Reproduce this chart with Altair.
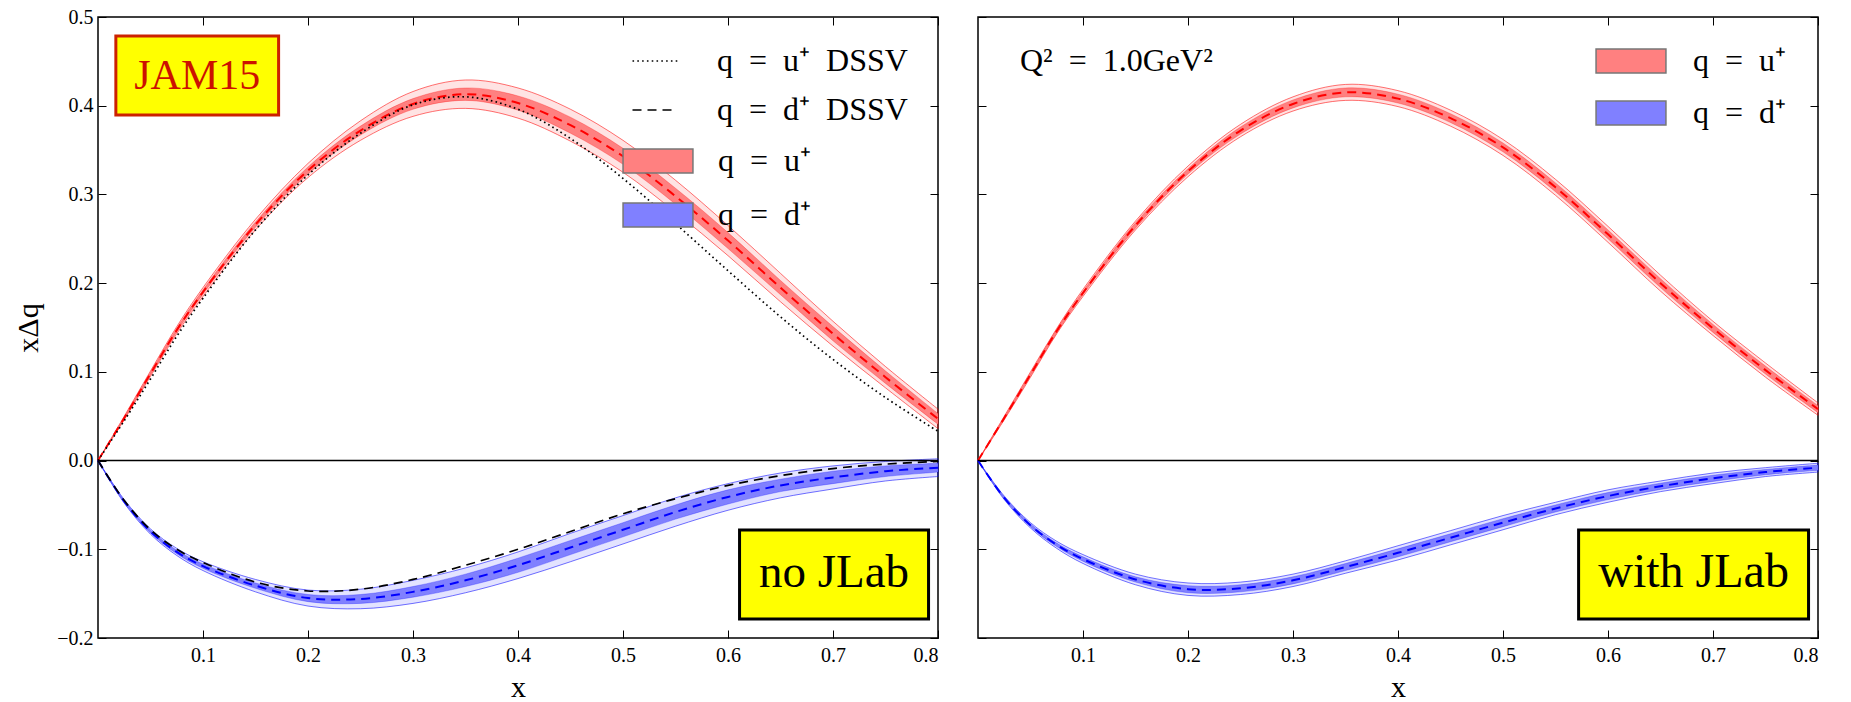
import altair as alt
import pandas as pd

# ---------------- data ----------------
X = [0, 0.025, 0.05, 0.075, 0.1, 0.15, 0.2, 0.25, 0.3, 0.35, 0.4, 0.45, 0.5, 0.55, 0.6, 0.65, 0.7, 0.75, 0.8]

# left panel (no JLab)
L_U = [0, 0.048, 0.098, 0.147, 0.19, 0.266, 0.327, 0.372, 0.402, 0.413, 0.403, 0.378, 0.343, 0.298, 0.248, 0.195, 0.143, 0.094, 0.047]
L_U_OUT = [0, 0.002, 0.003, 0.004, 0.005, 0.006, 0.008, 0.011, 0.014, 0.016, 0.017, 0.018, 0.018, 0.018, 0.017, 0.016, 0.014, 0.012, 0.011]
L_U_IN = [0, 0.001, 0.0015, 0.002, 0.0025, 0.003, 0.004, 0.005, 0.006, 0.007, 0.008, 0.009, 0.009, 0.009, 0.009, 0.008, 0.008, 0.007, 0.006]
L_D = [0, -0.046, -0.08, -0.103, -0.119, -0.141, -0.155, -0.156, -0.148, -0.135, -0.118, -0.098, -0.078, -0.058, -0.041, -0.028, -0.019, -0.012, -0.008]
L_D_OUT = [0, 0.002, 0.003, 0.004, 0.005, 0.007, 0.009, 0.011, 0.013, 0.014, 0.015, 0.016, 0.016, 0.016, 0.015, 0.014, 0.013, 0.011, 0.010]
L_D_IN = [0, 0.001, 0.0015, 0.002, 0.0025, 0.003, 0.004, 0.005, 0.006, 0.007, 0.008, 0.008, 0.008, 0.008, 0.008, 0.007, 0.007, 0.006, 0.005]
DSSV_U = [0, 0.045, 0.092, 0.14, 0.183, 0.26, 0.322, 0.369, 0.401, 0.41, 0.396, 0.363, 0.318, 0.267, 0.214, 0.162, 0.114, 0.071, 0.033]
DSSV_D = [0, -0.045, -0.078, -0.1, -0.115, -0.137, -0.147, -0.145, -0.134, -0.118, -0.1, -0.08, -0.06, -0.043, -0.028, -0.017, -0.009, -0.004, -0.001]

# right panel (with JLab)
R_U = [0, 0.048, 0.097, 0.146, 0.189, 0.265, 0.326, 0.372, 0.402, 0.415, 0.408, 0.386, 0.353, 0.308, 0.255, 0.2, 0.149, 0.102, 0.058]
R_U_OUT = [0, 0.002, 0.003, 0.003, 0.004, 0.005, 0.006, 0.007, 0.008, 0.009, 0.009, 0.009, 0.009, 0.009, 0.009, 0.009, 0.008, 0.008, 0.007]
R_U_IN = [0, 0.001, 0.0015, 0.002, 0.002, 0.003, 0.003, 0.004, 0.0045, 0.005, 0.005, 0.005, 0.005, 0.005, 0.005, 0.005, 0.0045, 0.0045, 0.004]
R_D = [0, -0.042, -0.073, -0.095, -0.111, -0.134, -0.145, -0.144, -0.135, -0.12, -0.104, -0.087, -0.07, -0.054, -0.04, -0.029, -0.02, -0.013, -0.008]
R_D_OUT = [0, 0.002, 0.003, 0.004, 0.005, 0.006, 0.007, 0.007, 0.007, 0.007, 0.008, 0.008, 0.008, 0.007, 0.007, 0.006, 0.006, 0.005, 0.005]
R_D_IN = [0, 0.001, 0.0015, 0.002, 0.0025, 0.003, 0.004, 0.004, 0.004, 0.004, 0.0045, 0.0045, 0.0045, 0.004, 0.004, 0.0035, 0.0035, 0.003, 0.003]

X_TICKS = [0.1, 0.2, 0.3, 0.4, 0.5, 0.6, 0.7, 0.8]
Y_TICKS = [-0.2, -0.1, 0.0, 0.1, 0.2, 0.3, 0.4, 0.5]
SP = "\u2002"
U_LABEL = f"q{SP}={SP}u⁺"
D_LABEL = f"q{SP}={SP}d⁺"
DSSV_LABELS = [f"q{SP}={SP}u⁺{SP}DSSV", f"q{SP}={SP}d⁺{SP}DSSV"]
Q2_LABEL = f"Q²{SP}={SP}1.0GeV²"

FONT = "Liberation Serif"
W, H = 840, 621
TICK = 8
INTERP = "catmull-rom"

xscale = alt.Scale(domain=[0, 0.8], nice=False, zero=False)
yscale = alt.Scale(domain=[-0.2, 0.5], nice=False, zero=False)


def band_df(center, outer, inner, label):
    return pd.DataFrame({
        "x": X, "c": center,
        "olo": [c - o for c, o in zip(center, outer)],
        "ohi": [c + o for c, o in zip(center, outer)],
        "ilo": [c - i for c, i in zip(center, inner)],
        "ihi": [c + i for c, i in zip(center, inner)],
        "q": label,
    })


def X_(field, axis=None):
    return alt.X(field, scale=xscale, axis=axis, title=None)


def Y_(field, axis=None):
    return alt.Y(field, scale=yscale, axis=axis, title=None)


fill_scale = alt.Scale(domain=[U_LABEL, D_LABEL], range=["#FF8080", "#8080FF"])


def annotation(box, text):
    b = alt.Chart(pd.DataFrame([box])).mark_rect(
        fill="#FFFF00", stroke=box["stroke"], strokeWidth=3).encode(
        x=X_("x1:Q"), x2="x2:Q", y=Y_("y1:Q"), y2="y2:Q")
    t = alt.Chart(pd.DataFrame([text])).mark_text(
        font=FONT, fontSize=text["size"], color=text["color"], align="center", baseline="middle").encode(
        x=X_("x:Q"), y=Y_("y:Q"), text="t:N")
    return [b, t]


def panel(u, d, left, fill_legend, extra_layers):
    du = band_df(*u, U_LABEL)
    dd = band_df(*d, D_LABEL)
    layers = []
    bottom_axis = alt.Axis(orient="bottom", values=X_TICKS, format=".1f", offset=-TICK, tickSize=TICK,
                           domain=False, grid=False, labelPadding=7, title="x", titlePadding=7,
                           minExtent=0)
    top_axis = alt.Axis(orient="top", values=X_TICKS, offset=-TICK, tickSize=TICK, domain=False,
                        grid=False, labels=False, title=None, minExtent=0)
    if left:
        left_axis = alt.Axis(orient="left", values=Y_TICKS, format=".1f", offset=-TICK, tickSize=TICK,
                             domain=False, grid=False, labelPadding=5, title="xΔq", titlePadding=13,
                             minExtent=0)
    else:
        left_axis = alt.Axis(orient="left", values=Y_TICKS, offset=-TICK, tickSize=TICK, domain=False,
                             grid=False, labels=False, title=None, minExtent=0)
    right_axis = alt.Axis(orient="right", values=Y_TICKS, offset=-TICK, tickSize=TICK, domain=False,
                          grid=False, labels=False, title=None, minExtent=0)

    for df, col, first in ((du, "#FF0000", True), (dd, "#0000FF", False)):
        outer = alt.Chart(df).mark_area(interpolate=INTERP, fill=col, fillOpacity=0.11, stroke=col,
                                        strokeOpacity=0.55, strokeWidth=1).encode(
            x=X_("x:Q", bottom_axis if first else None),
            y=Y_("olo:Q", left_axis if first else None),
            y2="ohi:Q")
        inner = alt.Chart(df).mark_area(interpolate=INTERP, stroke=col, strokeOpacity=0.35,
                                        strokeWidth=0.8).encode(
            x=X_("x:Q"), y=Y_("ilo:Q"), y2="ihi:Q",
            fill=alt.Fill("q:N", scale=fill_scale, legend=fill_legend))
        center = alt.Chart(df).mark_line(interpolate=INTERP, color=col, strokeWidth=2,
                                         strokeDash=[9, 6]).encode(
            x=X_("x:Q", top_axis if first else None),
            y=Y_("c:Q", right_axis if first else None))
        layers += [outer, inner, center]

    layers += extra_layers

    zero = alt.Chart(pd.DataFrame({"z": [0]})).mark_rule(color="black", strokeWidth=1.5).encode(
        y=alt.Y("z:Q", scale=yscale, axis=None))
    layers.append(zero)
    return alt.layer(*layers).resolve_axis(x="independent", y="independent").properties(width=W, height=H)


# left panel extras
dssv = pd.DataFrame({"x": X + X, "v": DSSV_U + DSSV_D,
                     "s": [DSSV_LABELS[0]] * len(X) + [DSSV_LABELS[1]] * len(X)})
dssv_lines = alt.Chart(dssv).mark_line(interpolate=INTERP, color="black", strokeWidth=1.7).encode(
    x=X_("x:Q"), y=Y_("v:Q"),
    strokeDash=alt.StrokeDash("s:N", scale=alt.Scale(domain=DSSV_LABELS, range=[[1.6, 3.2], [9, 6]]),
                              legend=alt.Legend(title=None, orient="none", legendX=541, legendY=28,
                                                symbolType="M-1.5,0H1.5", symbolSize=900,
                                                symbolStrokeColor="black", symbolStrokeWidth=1.6,
                                                labelOffset=46, rowPadding=17, padding=0,
                                                labelLimit=400)))

q_text = alt.Chart(pd.DataFrame({"x": [0.04], "y": [0.439], "t": [Q2_LABEL]})).mark_text(
    font=FONT, fontSize=32, color="black", align="left", baseline="alphabetic").encode(
    x=X_("x:Q"), y=Y_("y:Q"), text="t:N")

left_legend = alt.Legend(title=None, orient="none", legendX=544, legendY=128,
                         symbolType="M-2.33,-0.8H2.33V0.8H-2.33Z", symbolSize=900,
                         symbolStrokeColor="#777777", symbolStrokeWidth=1.5,
                         labelOffset=44, rowPadding=22, padding=0, labelLimit=400)
right_legend = alt.Legend(title=None, orient="none", legendX=637, legendY=28,
                          symbolType="M-2.33,-0.8H2.33V0.8H-2.33Z", symbolSize=900,
                          symbolStrokeColor="#777777", symbolStrokeWidth=1.5,
                          labelOffset=46, rowPadding=20, padding=0, labelLimit=400)

left_annot = (annotation({"x1": 0.017, "x2": 0.172, "y1": 0.4786, "y2": 0.3895, "stroke": "#CC2200"},
                         {"x": 0.0945, "y": 0.434, "t": "JAM15", "size": 42, "color": "#CC1100"})
              + annotation({"x1": 0.611, "x2": 0.791, "y1": -0.0784, "y2": -0.1787, "stroke": "black"},
                           {"x": 0.701, "y": -0.127, "t": "no JLab", "size": 47, "color": "black"}))
right_annot = annotation({"x1": 0.572, "x2": 0.791, "y1": -0.0784, "y2": -0.1787, "stroke": "black"},
                         {"x": 0.6815, "y": -0.127, "t": "with JLab", "size": 48, "color": "black"})

left = panel((L_U, L_U_OUT, L_U_IN), (L_D, L_D_OUT, L_D_IN), True, left_legend,
             [dssv_lines] + left_annot)
right = panel((R_U, R_U_OUT, R_U_IN), (R_D, R_D_OUT, R_D_IN), False, right_legend,
              [q_text] + right_annot)

chart = alt.hconcat(left, right, spacing=30).resolve_scale(
    fill="independent", strokeDash="independent", x="independent", y="independent"
).resolve_legend(fill="independent", strokeDash="independent").properties(
    padding={"left": 12, "top": 6, "right": 5, "bottom": 0}, background="white"
).configure_view(stroke="black", strokeWidth=1.5).configure_axis(
    labelFont=FONT, titleFont=FONT, labelFontSize=20, titleFontSize=30, titleFontWeight="normal",
    labelColor="black", titleColor="black", tickColor="black", tickWidth=1
).configure_legend(labelFont=FONT, labelFontSize=32, labelColor="black")

chart.save("out.html", embed_options={"renderer": "svg", "actions": False})
